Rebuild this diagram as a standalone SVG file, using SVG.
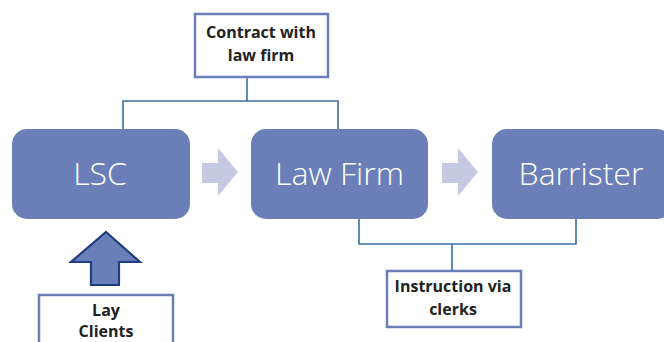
<svg xmlns="http://www.w3.org/2000/svg" width="664" height="342" viewBox="0 0 664 342">
<style>
.main{fill:#6a7fb7}
.big{font-family:"Open Sans","Noto Sans",sans-serif;font-weight:300;font-size:32px;fill:#ffffff;text-anchor:middle}
.lbl{fill:#ffffff;stroke:#6a7fb7;stroke-width:2.5}
.lt{font-family:"Open Sans","Noto Sans",sans-serif;font-weight:700;font-size:16px;fill:#222222;text-anchor:middle}
.conn{fill:none;stroke:#3a6fa5;stroke-width:1.6}
.flow{fill:#c5cae3}
</style>
<rect width="664" height="342" fill="#ffffff"/>
<g id="connectors">
<polyline class="conn" points="247,77 247,101"/>
<polyline class="conn" points="123,129 123,101 338,101 338,129"/>
<polyline class="conn" points="359,219 359,244 576,244 576,219"/>
<polyline class="conn" points="452,244 452,271"/>
<polygon class="flow" points="202,163 218,163 218,148 238,172 218,196 218,183 202,183"/>
<polygon class="flow" points="442,163 458,163 458,148 478,172 458,196 458,183 442,183"/>
<polygon points="106,232 140,262 119,262 119,285 91,285 91,262 71,262" fill="#6a7fb7" stroke="#1f3d80" stroke-width="2.2" stroke-linejoin="miter"/>
</g>
<g id="lsc">
<rect class="main" x="12" y="129" width="178" height="90" rx="15"/>
<text class="big" x="100" y="185">LSC</text>
</g>
<g id="lawfirm">
<rect class="main" x="251" y="129" width="177" height="90" rx="15"/>
<text class="big" x="339.5" y="185">Law Firm</text>
</g>
<g id="barrister">
<rect class="main" x="492" y="129" width="180" height="90" rx="15"/>
<text class="big" x="581" y="185">Barrister</text>
</g>
<g id="contract">
<rect class="lbl" x="195" y="14" width="133" height="63"/>
<text class="lt" x="261" y="38">Contract with</text>
<text class="lt" x="261" y="61">law firm</text>
</g>
<g id="instruction">
<rect class="lbl" x="387" y="271" width="134" height="56"/>
<text class="lt" x="453" y="292">Instruction via</text>
<text class="lt" x="453" y="315">clerks</text>
</g>
<g id="layclients">
<rect class="lbl" x="39" y="295" width="134" height="60"/>
<text class="lt" x="106" y="316">Lay</text>
<text class="lt" x="106" y="337">Clients</text>
</g>
</svg>
